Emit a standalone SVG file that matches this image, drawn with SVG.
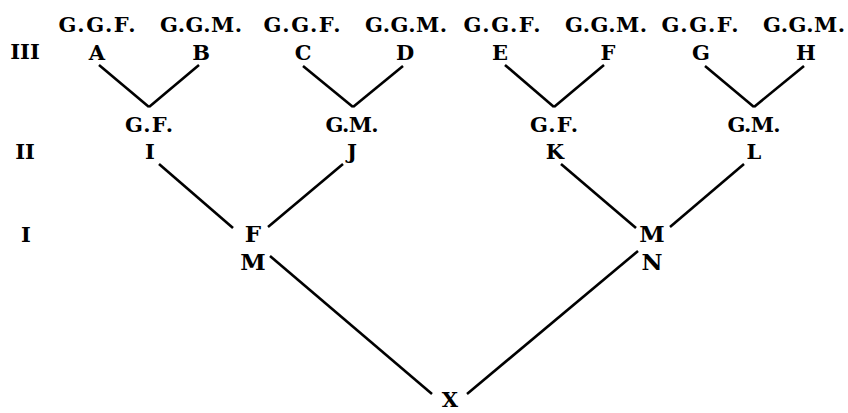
<svg xmlns="http://www.w3.org/2000/svg" width="848" height="413" viewBox="0 0 848 413">
<style>
text{font-family:"DejaVu Serif","Liberation Serif",serif;font-weight:bold;fill:#000;text-anchor:middle}
.s{font-size:21px}
.l{font-size:23px}
.x{font-size:21px}
.c line{stroke:#000;stroke-width:2.6;stroke-linecap:butt}
</style>
<rect width="848" height="413" fill="#fff"/>
<g id="gen-labels">
<text class="s" x="25" y="59">III</text>
<text class="s" x="25" y="159">II</text>
<text class="s" x="26" y="242">I</text>
</g>
<g id="A"><text class="s" x="97" y="32" textLength="77" lengthAdjust="spacing">G.G.F.</text><text class="s" x="97" y="60">A</text></g>
<g id="B"><text class="s" x="201" y="32" textLength="82" lengthAdjust="spacing">G.G.M.</text><text class="s" x="201" y="60">B</text></g>
<g id="C"><text class="s" x="302" y="32" textLength="77" lengthAdjust="spacing">G.G.F.</text><text class="s" x="303" y="60">C</text></g>
<g id="D"><text class="s" x="406" y="32" textLength="82" lengthAdjust="spacing">G.G.M.</text><text class="s" x="405" y="60">D</text></g>
<g id="E"><text class="s" x="502" y="32" textLength="77" lengthAdjust="spacing">G.G.F.</text><text class="s" x="500" y="60">E</text></g>
<g id="F"><text class="s" x="606" y="32" textLength="82" lengthAdjust="spacing">G.G.M.</text><text class="s" x="608" y="60">F</text></g>
<g id="G"><text class="s" x="700" y="32" textLength="77" lengthAdjust="spacing">G.G.F.</text><text class="s" x="701" y="60">G</text></g>
<g id="H"><text class="s" x="804" y="32" textLength="82" lengthAdjust="spacing">G.G.M.</text><text class="s" x="806" y="60">H</text></g>
<g id="I"><text class="s" x="149" y="132" textLength="48" lengthAdjust="spacing">G.F.</text><text class="s" x="150" y="159">I</text></g>
<g id="J"><text class="s" x="352" y="132" textLength="53" lengthAdjust="spacing">G.M.</text><text class="s" x="352" y="159">J</text></g>
<g id="K"><text class="s" x="554" y="132" textLength="48" lengthAdjust="spacing">G.F.</text><text class="s" x="555" y="159">K</text></g>
<g id="L"><text class="s" x="754" y="132" textLength="53" lengthAdjust="spacing">G.M.</text><text class="s" x="754" y="159">L</text></g>
<g id="FM"><text class="l" x="253" y="242">F</text><text class="l" x="253" y="270">M</text></g>
<g id="MN"><text class="l" x="652" y="242">M</text><text class="l" x="652" y="270">N</text></g>
<g id="X"><text class="x" x="450" y="407">X</text></g>
<g id="connectors" class="c">
<line x1="99" y1="65" x2="149" y2="107"/><line x1="199" y1="65" x2="149" y2="107"/>
<line x1="303" y1="66" x2="353" y2="107"/><line x1="403" y1="66" x2="353" y2="107"/>
<line x1="505" y1="65" x2="554" y2="107"/><line x1="604" y1="65" x2="554" y2="107"/>
<line x1="705" y1="66" x2="754" y2="107"/><line x1="804" y1="66" x2="754" y2="107"/>
<line x1="159" y1="164" x2="233" y2="228"/><line x1="343" y1="164" x2="268" y2="227"/>
<line x1="561" y1="164" x2="636" y2="228"/><line x1="744" y1="164" x2="670" y2="227"/>
<line x1="270" y1="256" x2="432" y2="394"/><line x1="638" y1="251" x2="467" y2="394"/>
</g>
</svg>
